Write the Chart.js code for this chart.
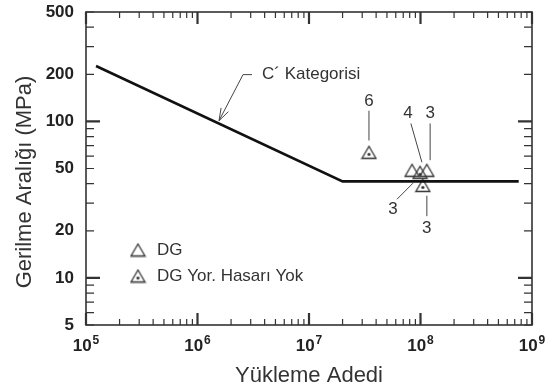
<!DOCTYPE html>
<html>
<head>
<meta charset="utf-8">
<script src="https://cdn.jsdelivr.net/npm/chart.js@4.4.0/dist/chart.umd.min.js"></script>
<style>
  html, body { margin: 0; padding: 0; background: #fff; }
</style>
</head>
<body>
<canvas id="chart" width="545" height="389"></canvas>
<script>
// C' category design curve (cycles, stress range in MPa)
const curveN = [1.23e5, 2.0e7, 7.6e8];
const curveS = [226, 41.4, 41.4];

// test results
const dgN = [8.4e7, 1.14e8];
const dgS = [48.7, 48.7];
const dgNoDamageN = [3.45e7, 9.9e7, 1.05e8];
const dgNoDamageS = [63.5, 47.3, 39.0];

const xTicks = [1e5, 1e6, 1e7, 1e8, 1e9];
const yTicks = [5, 10, 20, 50, 100, 200, 500];

// specimen counts beside the points: text position, leader start, leader end
const calloutText = ['6', '4', '3', '3', '3'];
const calloutAt = [[3.45e7, 134], [7.73e7, 112], [1.22e8, 113], [5.66e7, 27.5], [1.14e8, 20.8]];
const leaderFrom = [[3.45e7, 117], [8.2e7, 97], [1.22e8, 97], [6.15e7, 31.8], [1.14e8, 33.5]];
const leaderTo = [[3.45e7, 75.5], [1.03e8, 54.8], [1.22e8, 56.5], [8.57e7, 40.3], [1.14e8, 24.8]];

// arrow pointing at the design curve
const curveLabel = 'C\u00B4 Kategorisi';
const curveLabelAt = [3.79e6, 199];
const curveArrow = [[3.08e6, 199], [2.56e6, 199], [1.56e6, 101]];

const FONT = '"Liberation Sans", Arial, sans-serif';
const INK = '#333';

function triangleIcon(dotted) {
  const c = document.createElement('canvas');
  c.width = 17; c.height = 15;
  const g = c.getContext('2d');
  g.strokeStyle = INK;
  g.lineWidth = 1.3;
  g.beginPath();
  g.moveTo(8.5, 1.5); g.lineTo(15.5, 13.5); g.lineTo(1.5, 13.5);
  g.closePath();
  g.stroke();
  if (dotted) {
    g.fillStyle = INK;
    g.beginPath();
    g.arc(8.5, 9.5, 1.6, 0, Math.PI * 2);
    g.fill();
  }
  return c;
}
const plainTri = triangleIcon(false);
const dotTri = triangleIcon(true);

const zip = (xs, ys) => xs.map((x, i) => ({ x: x, y: ys[i] }));

// frame, inward ticks, power-of-ten labels, titles, legend and callouts
const decorations = {
  id: 'decorations',
  afterDraw(chart) {
    const { ctx, chartArea: a, scales: { x, y } } = chart;
    ctx.save();
    ctx.strokeStyle = INK;
    ctx.lineWidth = 1.6;
    ctx.strokeRect(a.left, a.top, a.right - a.left, a.bottom - a.top);

    // x ticks on top and bottom
    for (let d = 5; d <= 9; d++) {
      for (let m = 1; m <= 9; m++) {
        const v = m * Math.pow(10, d);
        if (v > 1e9) break;
        const px = x.getPixelForValue(v);
        const major = m === 1;
        const len = major ? 12 : 6;
        ctx.lineWidth = major ? 2.2 : 1.2;
        ctx.beginPath();
        ctx.moveTo(px, a.bottom); ctx.lineTo(px, a.bottom - len);
        ctx.moveTo(px, a.top); ctx.lineTo(px, a.top + len);
        ctx.stroke();
      }
    }
    // y ticks on left and right
    const yMinor = [5, 6, 7, 8, 9, 10, 20, 30, 40, 50, 60, 70, 80, 90, 100, 200, 300, 400, 500];
    yMinor.forEach(v => {
      const py = y.getPixelForValue(v);
      const major = v === 10 || v === 100;
      const len = major ? 14 : 8;
      ctx.lineWidth = major ? 2.2 : 1.2;
      ctx.beginPath();
      ctx.moveTo(a.left, py); ctx.lineTo(a.left + len, py);
      ctx.moveTo(a.right, py); ctx.lineTo(a.right - len, py);
      ctx.stroke();
    });

    // x tick labels as 10 with a raised exponent
    ctx.fillStyle = '#222';
    ctx.textBaseline = 'alphabetic';
    ctx.textAlign = 'left';
    xTicks.forEach(v => {
      const exp = String(Math.round(Math.log10(v)));
      ctx.font = 'bold 17px ' + FONT;
      const wBase = ctx.measureText('10').width;
      ctx.font = 'bold 12px ' + FONT;
      const wExp = ctx.measureText(exp).width;
      const left = x.getPixelForValue(v) - (wBase + wExp + 1) / 2;
      const base = a.bottom + 26;
      ctx.font = 'bold 17px ' + FONT;
      ctx.fillText('10', left, base);
      ctx.font = 'bold 12px ' + FONT;
      ctx.fillText(exp, left + wBase + 1, base - 7);
    });

    // y axis title
    ctx.fillStyle = INK;
    ctx.font = '22px ' + FONT;
    ctx.textAlign = 'center';
    ctx.textBaseline = 'middle';
    ctx.save();
    ctx.translate(25, 182);
    ctx.rotate(-Math.PI / 2);
    ctx.fillText('Gerilme Aral\u0131\u011F\u0131 (MPa)', 0, 0);
    ctx.restore();

    // legend
    const lx = a.left + 52, ly = a.top + 238;
    ctx.drawImage(plainTri, lx - 8.5, ly - 7.5);
    ctx.drawImage(dotTri, lx - 8.5, ly + 26 - 7.5);
    ctx.font = '17px ' + FONT;
    ctx.textAlign = 'left';
    ctx.fillText('DG', lx + 19, ly);
    ctx.fillText('DG Yor. Hasar\u0131 Yok', lx + 19, ly + 26);

    // leaders and counts
    ctx.strokeStyle = '#444';
    ctx.lineWidth = 1;
    ctx.textAlign = 'center';
    calloutText.forEach((t, i) => {
      ctx.beginPath();
      ctx.moveTo(x.getPixelForValue(leaderFrom[i][0]), y.getPixelForValue(leaderFrom[i][1]));
      ctx.lineTo(x.getPixelForValue(leaderTo[i][0]), y.getPixelForValue(leaderTo[i][1]));
      ctx.stroke();
      ctx.fillText(t, x.getPixelForValue(calloutAt[i][0]), y.getPixelForValue(calloutAt[i][1]));
    });

    // curve label with arrow
    const pts = curveArrow.map(p => [x.getPixelForValue(p[0]), y.getPixelForValue(p[1])]);
    ctx.beginPath();
    ctx.moveTo(pts[0][0], pts[0][1]);
    pts.slice(1).forEach(p => ctx.lineTo(p[0], p[1]));
    ctx.stroke();
    const [tx, ty] = pts[pts.length - 1];
    const [bx, by] = pts[pts.length - 2];
    const ang = Math.atan2(ty - by, tx - bx);
    ctx.beginPath();
    [-0.32, 0.32].forEach(s => {
      ctx.moveTo(tx, ty);
      ctx.lineTo(tx - 13 * Math.cos(ang + s), ty - 13 * Math.sin(ang + s));
    });
    ctx.stroke();
    ctx.font = '17px ' + FONT;
    ctx.textAlign = 'left';
    ctx.fillText(curveLabel, x.getPixelForValue(curveLabelAt[0]), y.getPixelForValue(curveLabelAt[1]));
    ctx.restore();
  }
};

new Chart(document.getElementById('chart'), {
  type: 'scatter',
  data: {
    datasets: [
      {
        label: 'C\u00B4 Kategorisi',
        data: zip(curveN, curveS),
        showLine: true,
        borderColor: '#111',
        borderWidth: 2.6,
        pointRadius: 0,
        tension: 0
      },
      {
        label: 'DG',
        data: zip(dgN, dgS),
        pointStyle: plainTri
      },
      {
        label: 'DG Yor. Hasar\u0131 Yok',
        data: zip(dgNoDamageN, dgNoDamageS),
        pointStyle: dotTri
      }
    ]
  },
  options: {
    responsive: false,
    animation: false,
    devicePixelRatio: 1,
    layout: { padding: { top: 12, right: 13, left: 0, bottom: 0 } },
    plugins: { legend: { display: false }, tooltip: { enabled: false } },
    scales: {
      x: {
        type: 'logarithmic',
        min: 1e5,
        max: 1e9,
        afterBuildTicks: s => { s.ticks = xTicks.map(v => ({ value: v })); },
        afterFit: s => { s.height = 64; s.paddingLeft = 0; s.paddingRight = 0; },
        grid: { display: false, drawTicks: false },
        border: { display: false },
        ticks: { display: false },
        title: {
          display: true,
          text: 'Y\u00FCkleme Adedi',
          color: INK,
          font: { family: FONT, size: 22 },
          padding: { top: 0, bottom: 0 }
        }
      },
      y: {
        type: 'logarithmic',
        min: 5,
        max: 500,
        afterBuildTicks: s => { s.ticks = yTicks.map(v => ({ value: v })); },
        afterFit: s => { s.width = 86; s.paddingTop = 0; s.paddingBottom = 0; },
        grid: { display: false, drawTicks: false },
        border: { display: false },
        ticks: {
          autoSkip: false,
          padding: 12,
          color: '#222',
          font: { family: FONT, size: 17, weight: 'bold' },
          callback: v => String(v)
        }
      }
    }
  },
  plugins: [decorations]
});
</script>
</body>
</html>
